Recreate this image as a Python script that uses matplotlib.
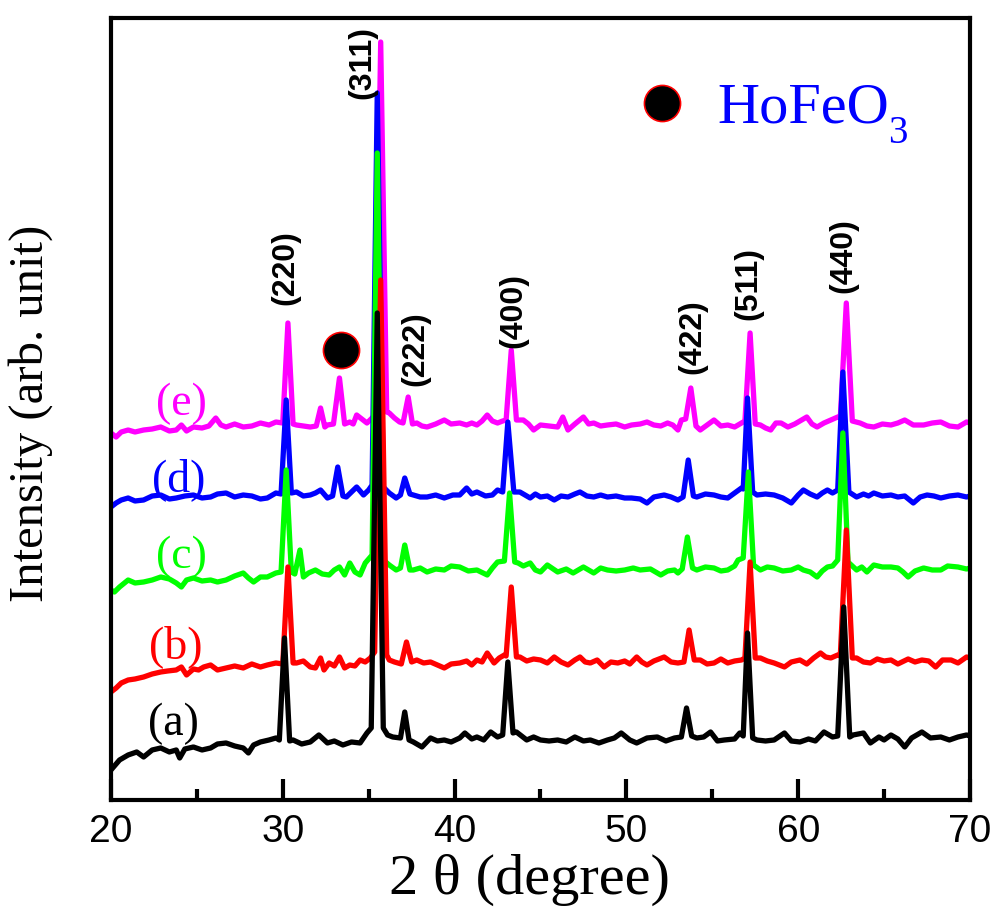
import numpy as np
import matplotlib.pyplot as plt
from matplotlib.ticker import MultipleLocator

plt.rcParams['font.family'] = 'Liberation Serif'

# (2theta, intensity), curves already offset
pat_a = [(20.0,30),(20.5,40),(21.0,45),(21.5,48),(21.9,43),(22.4,50),(22.9,52),(23.4,48),(23.8,50),(24.0,42),
         (24.3,51),(24.8,53),(25.3,50),(25.8,52),(26.2,56),(26.7,57),(27.2,54),(27.7,52),(28.0,47),(28.3,55),
         (28.7,58),(29.2,60),(29.6,62),(29.8,60),(30.1,162),(30.4,59),(30.6,60),(31.1,56),(31.6,58),(32.1,65),
         (32.6,57),(33.0,59),(33.5,55),(34.0,58),(34.5,57),(34.9,67),(35.15,72),(35.5,487),(35.85,72),(36.1,65),
         (36.4,63),(36.85,62),(37.1,88),(37.35,60),(37.6,58),(38.1,53),(38.6,62),(39.0,59),(39.4,60),(39.8,58),
         (40.3,62),(40.6,67),(41.0,61),(41.3,63),(41.7,60),(42.1,68),(42.5,63),(42.8,65),(43.1,138),(43.4,67),
         (43.6,68),(44.2,60),(44.6,63),(45.0,60),(45.5,59),(46.0,60),(46.5,58),(47.0,63),(47.5,59),(47.9,60),
         (48.4,57),(48.9,60),(49.3,62),(49.7,67),(50.2,60),(50.6,57),(51.2,62),(51.8,63),(52.3,59),(52.8,62),
         (53.2,63),(53.5,92),(53.8,64),(54.1,62),(54.5,63),(54.9,68),(55.3,59),(55.7,60),(56.3,61),(56.6,67),
         (56.8,64),(57.05,167),(57.35,62),(57.6,60),(58.1,59),(58.6,60),(59.2,67),(59.6,59),(60.1,58),(60.6,61),
         (61.0,59),(61.5,68),(62.0,63),(62.3,64),(62.65,193),(63.0,63),(63.2,65),(63.8,67),(64.2,57),(64.7,63),
         (65.0,60),(65.4,65),(65.8,61),(66.2,53),(66.6,62),(67.2,68),(67.7,62),(68.3,63),(68.8,60),(69.3,63),
         (69.8,65),(70.0,64)]

pat_b = [(20.0,108),(20.3,112),(20.6,117),(21.0,120),(21.4,121),(21.9,123),(22.4,126),(22.9,128),(23.3,129),
         (23.8,130),(24.1,133),(24.4,125),(24.8,131),(25.1,130),(25.4,133),(25.8,135),(26.2,130),(26.7,132),
         (27.2,134),(27.7,132),(28.2,136),(28.7,133),(29.1,135),(29.6,137),(30.0,136),(30.3,233),(30.6,137),
         (30.8,137),(31.2,139),(31.6,133),(31.9,132),(32.2,142),(32.4,130),(32.7,137),(33.0,134),(33.3,143),
         (33.6,132),(33.9,135),(34.2,134),(34.5,140),(34.8,138),(35.1,142),(35.35,148),(35.7,520),(36.05,145),
         (36.2,140),(36.5,138),(36.9,136),(37.2,158),(37.5,138),(37.8,140),(38.2,137),(38.6,138),(39.0,135),
         (39.4,132),(39.8,136),(40.3,137),(40.7,139),(41.0,135),(41.3,140),(41.6,138),(41.9,147),(42.3,137),
         (42.6,142),(42.9,145),(43.0,144),(43.3,213),(43.6,143),(43.8,143),(44.2,139),(44.6,141),(45.0,140),
         (45.4,137),(45.8,143),(46.2,138),(46.6,135),(47.0,140),(47.3,143),(47.6,138),(47.9,137),(48.3,140),
         (48.7,133),(49.1,138),(49.5,137),(49.9,139),(50.2,136),(50.6,143),(50.9,138),(51.2,135),(51.6,139),
         (52.2,143),(52.6,138),(53.0,137),(53.35,138),(53.65,170),(53.95,140),(54.3,140),(54.7,136),(55.1,137),
         (55.5,141),(55.9,137),(56.3,139),(56.7,140),(56.9,142),(57.2,238),(57.5,142),(57.8,142),(58.2,139),
         (58.6,137),(59.2,133),(59.6,138),(60.1,140),(60.5,136),(60.9,142),(61.3,147),(61.6,143),(61.9,142),
         (62.3,145),(62.45,144),(62.8,270),(63.15,142),(63.4,142),(63.8,138),(64.2,137),(64.6,141),(65.0,139),
         (65.4,140),(65.8,136),(66.4,141),(66.8,138),(67.2,140),(67.6,139),(68.0,133),(68.4,140),(68.9,140),
         (69.3,137),(69.8,143),(70.0,142)]

pat_c = [(20.0,210),(20.2,208),(20.5,213),(21.0,220),(21.4,217),(21.9,218),(22.4,220),(22.9,223),(23.4,221),
         (23.8,217),(24.1,213),(24.4,220),(24.8,222),(25.3,219),(25.8,220),(26.2,218),(26.7,220),(27.2,224),
         (27.7,227),(28.0,222),(28.3,218),(28.7,223),(29.1,223),(29.6,227),(29.9,228),(30.2,330),(30.5,228),
         (30.7,226),(31.0,250),(31.2,223),(31.5,227),(31.9,230),(32.3,226),(32.7,225),(33.0,230),(33.3,233),
         (33.6,225),(33.9,237),(34.2,228),(34.5,225),(34.8,237),(35.1,243),(35.2,245),(35.5,647),(35.85,240),
         (36.2,235),(36.6,230),(36.85,232),(37.1,255),(37.4,230),(37.6,230),(38.0,232),(38.4,228),(38.9,231),
         (39.4,230),(39.8,234),(40.3,233),(40.8,229),(41.3,230),(41.9,225),(42.2,232),(42.5,238),(42.9,239),
         (43.2,307),(43.5,238),(43.7,237),(44.0,234),(44.4,237),(44.7,230),(45.0,228),(45.4,235),(46.0,228),
         (46.5,231),(46.9,227),(47.2,230),(47.5,233),(48.1,227),(48.5,232),(48.9,230),(49.4,229),(49.9,230),
         (50.4,232),(50.8,230),(51.4,231),(52.0,225),(52.4,229),(52.8,230),(53.0,227),(53.25,231),(53.55,263),
         (53.85,232),(54.1,230),(54.6,233),(55.1,232),(55.5,229),(55.9,230),(56.3,234),(56.5,240),(56.8,242),
         (57.1,328),(57.4,235),(57.8,230),(58.2,233),(58.6,232),(59.1,229),(59.6,230),(60.0,233),(60.3,230),
         (60.7,228),(61.1,223),(61.4,229),(61.7,233),(62.0,234),(62.3,240),(62.6,367),(62.9,238),(63.4,230),
         (63.7,233),(64.0,228),(64.4,235),(64.9,233),(65.4,233),(65.8,232),(66.1,228),(66.4,223),(66.8,229),
         (67.3,232),(67.8,230),(68.3,230),(68.7,234),(69.3,233),(69.8,231),(70.0,232)]

pat_d = [(20.0,293),(20.3,297),(20.6,300),(21.0,302),(21.4,299),(21.9,300),(22.4,304),(22.9,305),(23.4,301),
         (23.8,302),(24.3,304),(24.8,305),(25.3,302),(25.8,303),(26.2,306),(26.7,307),(27.2,303),(27.7,305),
         (28.2,304),(28.7,301),(29.1,302),(29.6,307),(29.9,306),(30.2,400),(30.5,307),(30.8,308),(31.2,304),
         (31.6,305),(31.9,307),(32.2,310),(32.6,302),(32.9,304),(33.2,333),(33.5,304),(33.7,303),(34.0,308),
         (34.3,313),(34.7,305),(35.0,310),(35.2,315),(35.5,707),(35.85,313),(36.2,307),(36.6,302),(36.85,305),
         (37.1,322),(37.4,306),(37.6,305),(38.0,303),(38.4,303),(38.9,305),(39.4,302),(39.9,305),(40.3,305),
         (40.7,312),(41.0,306),(41.3,308),(41.8,304),(42.2,305),(42.5,310),(42.8,308),(43.1,378),(43.45,308),
         (43.8,308),(44.1,305),(44.4,302),(44.7,306),(45.0,303),(45.4,304),(45.8,300),(46.2,304),(46.6,303),
         (47.0,306),(47.3,308),(47.7,304),(48.1,303),(48.5,305),(48.9,303),(49.4,304),(49.9,302),(50.3,302),
         (50.8,301),(51.2,297),(51.6,303),(52.2,305),(52.6,303),(53.0,300),(53.3,303),(53.6,340),(53.9,304),
         (54.1,303),(54.6,306),(55.1,305),(55.5,303),(55.9,302),(56.3,307),(56.7,312),(56.8,311),(57.05,402),
         (57.35,308),(57.6,305),(58.1,306),(58.6,305),(59.1,302),(59.6,297),(60.0,305),(60.3,310),(60.7,306),
         (61.1,303),(61.4,307),(61.7,310),(62.0,307),(62.3,310),(62.6,428),(62.95,308),(63.4,303),(63.8,306),
         (64.1,304),(64.4,307),(64.9,304),(65.4,305),(65.8,303),(66.2,304),(66.7,297),(67.1,303),(67.5,305),
         (67.9,304),(68.3,302),(68.8,304),(69.3,305),(69.8,303),(70.0,304)]

pat_e = [(20.0,367),(20.3,363),(20.6,368),(21.0,370),(21.4,368),(21.9,370),(22.4,371),(22.9,373),(23.4,369),
         (23.8,370),(24.1,375),(24.4,369),(24.8,373),(25.3,372),(25.7,374),(26.1,382),(26.4,375),(26.7,373),
         (27.2,376),(27.7,373),(28.2,374),(28.7,377),(29.2,375),(29.6,378),(30.0,377),(30.3,477),(30.6,376),
         (30.8,375),(31.2,374),(31.6,373),(31.95,374),(32.2,392),(32.45,373),(32.6,375),(32.95,376),(33.3,422),
         (33.6,376),(33.9,378),(34.1,376),(34.3,385),(34.6,381),(34.9,377),(35.2,382),(35.35,385),(35.7,758),
         (36.05,388),(36.2,387),(36.5,382),(36.8,378),(37.0,377),(37.3,403),(37.55,376),(37.8,377),(38.1,374),
         (38.4,373),(38.9,376),(39.4,380),(39.8,376),(40.3,377),(40.7,375),(41.0,377),(41.3,375),(41.6,379),
         (41.9,385),(42.2,379),(42.5,377),(42.8,379),(43.0,380),(43.3,450),(43.6,380),(44.0,380),(44.3,376),
         (44.6,370),(45.0,375),(45.5,374),(46.0,373),(46.3,383),(46.6,370),(47.0,376),(47.5,383),(47.8,376),
         (48.1,377),(48.5,374),(48.9,375),(49.4,376),(49.9,373),(50.3,375),(50.8,376),(51.2,378),(51.6,375),
         (52.0,374),(52.4,377),(52.7,375),(53.0,370),(53.2,380),(53.45,381),(53.75,412),(54.05,374),(54.3,370),
         (54.7,375),(55.1,380),(55.5,374),(55.9,375),(56.3,373),(56.7,377),(56.9,379),(57.2,467),(57.5,376),
         (57.8,375),(58.1,372),(58.4,370),(58.7,377),(59.0,377),(59.4,373),(59.8,376),(60.2,380),(60.5,383),
         (60.8,376),(61.1,373),(61.5,377),(61.9,380),(62.3,383),(62.45,382),(62.8,497),(63.15,379),(63.6,377),
         (64.0,374),(64.4,373),(64.9,376),(65.4,375),(65.8,377),(66.2,380),(66.7,375),(67.3,375),(67.8,377),
         (68.3,378),(68.8,374),(69.3,373),(69.8,378),(70.0,377)]

curve_names = ['(e)', '(d)', '(c)', '(b)', '(a)']
curve_colors = ['#ff00ff', '#0000ff', '#00ff00', '#ff0000', '#000000']
curves = [pat_e, pat_d, pat_c, pat_b, pat_a]
name_pos = [(24.13, 396), (23.96, 320), (24.13, 243), (23.78, 153), (23.61, 76)]

hkl_labels = ['(220)', '(311)', '(222)', '(400)', '(422)', '(511)', '(440)']
hkl_pos = [(30.13, 532), (34.61, 738), (37.69, 451), (43.40, 490), (53.82, 463), (57.08, 517), (62.61, 544)]

phase_peak = (33.39, 450)   # marker over the HoFeO3 reflection
legend_dot = (52.07, 697)

fig = plt.figure(figsize=(9.96, 9.15), dpi=100)
ax = fig.add_axes([0.1114, 0.1257, 0.8625, 0.8546])

for pts, col in zip(curves, curve_colors):
    arr = np.array(pts)
    ax.plot(arr[:, 0], arr[:, 1], color=col, lw=3.8, solid_joinstyle='round')

for nm, (x, y), col in zip(curve_names, name_pos, curve_colors):
    ax.text(x, y, nm, color=col, fontsize=33, ha='center', va='center')

for lab, (x, y) in zip(hkl_labels, hkl_pos):
    ax.text(x, y, lab, rotation=90, fontsize=23, fontweight='bold',
            family='Liberation Sans', ha='center', va='center')

ax.plot(*phase_peak, 'o', ms=26, mfc='black', mec='red', mew=1.2)
ax.plot(*legend_dot, 'o', ms=26, mfc='black', mec='red', mew=1.2)
ax.text(55.27, 678, 'HoFeO', color='#0000ff', fontsize=42, va='baseline')
ax.text(65.25, 657, '3', color='#0000ff', fontsize=28, va='baseline')

ax.set_xlim(20, 70)
ax.set_ylim(0, 782)
ax.xaxis.set_major_locator(MultipleLocator(10))
ax.xaxis.set_minor_locator(MultipleLocator(5))
ax.tick_params(axis='x', which='major', direction='in', length=15, width=3, pad=10, labelsize=28)
ax.tick_params(axis='x', which='minor', direction='in', length=8, width=3)
ax.tick_params(axis='y', which='both', left=False, labelleft=False)
for lbl in ax.get_xticklabels():
    lbl.set_family('Liberation Sans')
for sp in ax.spines.values():
    sp.set_linewidth(3)

fig.text(529 / 996, 1 - 880 / 915, '2 \u03b8 (degree)', fontsize=42, ha='center', va='center')
fig.text(31 / 996, 1 - 413 / 915, 'Intensity (arb. unit)', fontsize=35, rotation=90,
         ha='center', va='center')

fig.savefig('out.png', dpi=100)
